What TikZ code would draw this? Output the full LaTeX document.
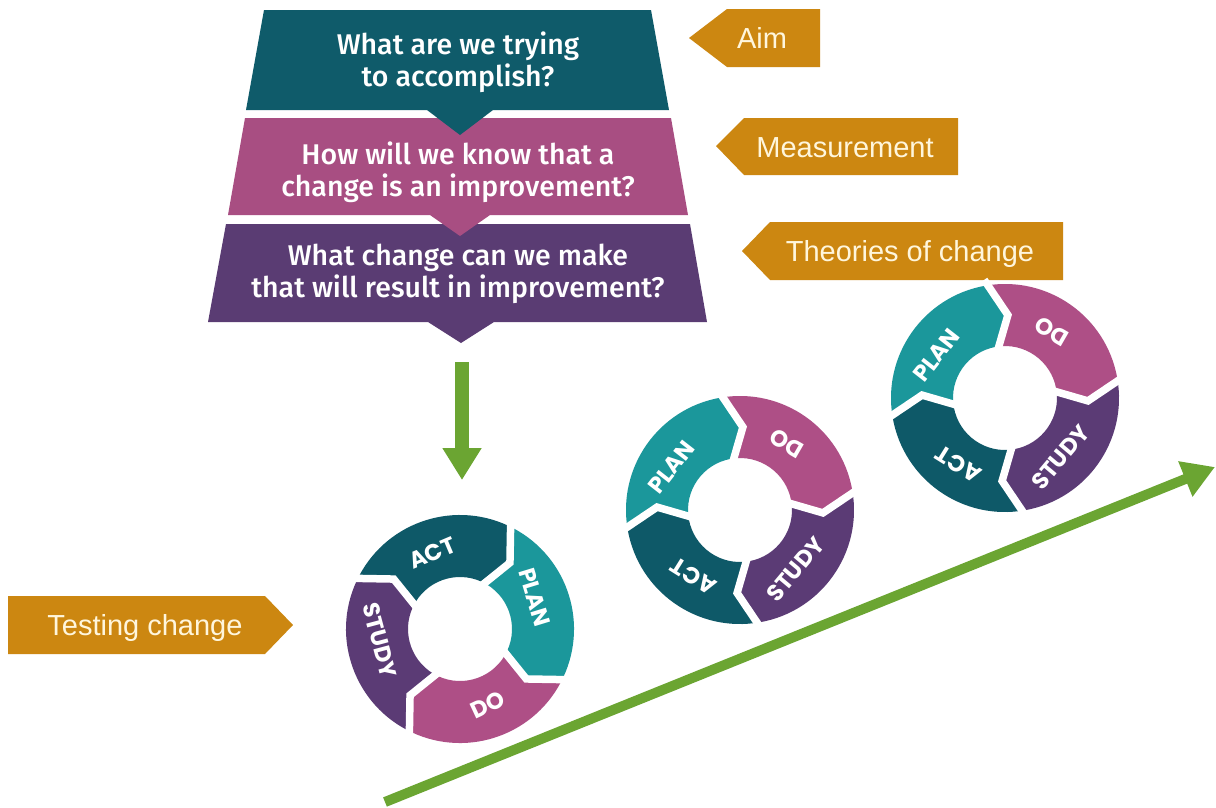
\documentclass[tikz,border=0pt]{standalone}
\usepackage{fontspec}
\setmainfont{Liberation Sans}
\newfontfamily\qfont{Fira Sans Medium}
\newfontfamily\cycfont{Poppins}
\usetikzlibrary{arrows.meta}

\definecolor{aimteal}{HTML}{0F5B6A}
\definecolor{measpink}{HTML}{A84E82}
\definecolor{chgpurple}{HTML}{5A3C73}
\definecolor{planteal}{HTML}{1B979B}
\definecolor{actteal}{HTML}{0E5968}
\definecolor{dopink}{HTML}{AE4F86}
\definecolor{studypurple}{HTML}{5B3B75}
\definecolor{tagorange}{HTML}{CC8711}
\definecolor{tagcream}{HTML}{FFF6DC}
\definecolor{arrowgreen}{HTML}{6BA532}

\tikzset{
  qtext/.style={text=white, align=center, inner sep=0pt,
    font=\qfont\fontsize{28.5}{32}\selectfont},
  tagshape/.style={fill=tagorange},
  taglabel/.style={text=tagcream, inner sep=0pt, anchor=base,
    font=\fontsize{29}{34}\selectfont},
  cyctext/.style={text=white, inner sep=0pt,
    font=\cycfont\bfseries\fontsize{23}{26}\selectfont},
  segmentgap/.style={draw=white, line width=7.5pt, line join=miter},
  greenarrow/.style={draw=arrowgreen, line width=#1},
}

% one chevron segment of a PDSA ring, running clockwise from #2 to #3
\newcommand\pdsaseg[3]{%
  \fill[#1] (#2:114) arc[start angle=#2, end angle=#3, radius=114]
    -- ({#3-12}:83) -- (#3:52)
    arc[start angle=#3, end angle=#2, radius=52]
    -- ({#2-12}:83) -- cycle;}

% a whole Plan-Do-Study-Act ring: #1 name prefix, #2/#3 centre, #4 turn
\newcommand\pdsacycle[4]{%
  \begin{scope}[shift={(#2,#3)}, y=1pt, rotate=#4]
    \coordinate (#1centre) at (0,0);
    \pdsaseg{planteal}{190}{100}
    \pdsaseg{dopink}{100}{10}
    \pdsaseg{studypurple}{10}{-80}
    \pdsaseg{actteal}{-80}{-170}
    \foreach \p in {100,10,-80,-170}
      \draw[segmentgap] (\p:120) -- ({\p-12}:83) -- (\p:46);
    \node[cyctext, rotate={52+(#4)}] (#1plan) at (148:81) {PLAN};
    \node[cyctext, rotate={150+(#4)}] (#1do) at (55:81) {DO};
    \node[cyctext, rotate={50+(#4)}] (#1study) at (-47:81) {STUDY};
    \node[cyctext, rotate={148+(#4)}] (#1act) at (-125:81) {ACT};
  \end{scope}}

\begin{document}
\begin{tikzpicture}[x=1pt, y=-1pt]
  \fill[white] (0,0) rectangle (1216,807);
  \useasboundingbox (0,0) rectangle (1216,807);

  % the three questions, drawn bottom-up so each notch overlaps the next band
  \fill[chgpurple] (226,224) -- (690,224) -- (707,322) -- (494,322)
    -- (461,343) -- (428,322) -- (208,322) -- cycle;
  \fill[measpink] (245,118) -- (671,118) -- (688,215) -- (490,215)
    -- (460,236) -- (430,215) -- (228,215) -- cycle;
  \fill[aimteal] (264,10) -- (651,10) -- (669,110) -- (493,110)
    -- (460,135) -- (427,110) -- (246,110) -- cycle;

  \node[qtext] (qaim) at (458,62) {What are we trying\\to accomplish?};
  \node[qtext] (qmeasure) at (458,172) {How will we know that a\\change is an improvement?};
  \node[qtext] (qchange) at (458,274) {What change can we make\\that will result in improvement?};

  % orange tags
  \fill[tagshape] (689,38) -- (727,9) -- (820,9) -- (820,67) -- (727,67) -- cycle;
  \node[taglabel] (tagaim) at (762,48) {Aim};
  \fill[tagshape] (716,146) -- (744,118) -- (958,118) -- (958,175) -- (744,175) -- cycle;
  \node[taglabel] (tagmeasure) at (845,157) {Measurement};
  \fill[tagshape] (742,251) -- (770,222) -- (1063,222) -- (1063,280) -- (770,280) -- cycle;
  \node[taglabel] (tagtheory) at (910,261) {Theories of change};
  \fill[tagshape] (8,596) -- (265,596) -- (293,625) -- (265,654) -- (8,654) -- cycle;
  \node[taglabel] (tagtest) at (145,635) {Testing change};

  % the cycles
  \pdsacycle{first}{460}{629}{-125}
  \pdsacycle{second}{740}{510}{0}
  \pdsacycle{third}{1005}{398}{0}

  % arrows
  \coordinate (downstart) at (462,362);
  \coordinate (downend) at (462,480);
  \draw[greenarrow=14pt, -{Triangle[width=37pt,length=32pt]}] (downstart) -- (downend);
  \coordinate (risestart) at (385,802);
  \coordinate (riseend) at (1215,467);
  \draw[greenarrow=10pt, -{Triangle[width=36pt,length=32pt]}] (risestart) -- (riseend);
\end{tikzpicture}
\end{document}
